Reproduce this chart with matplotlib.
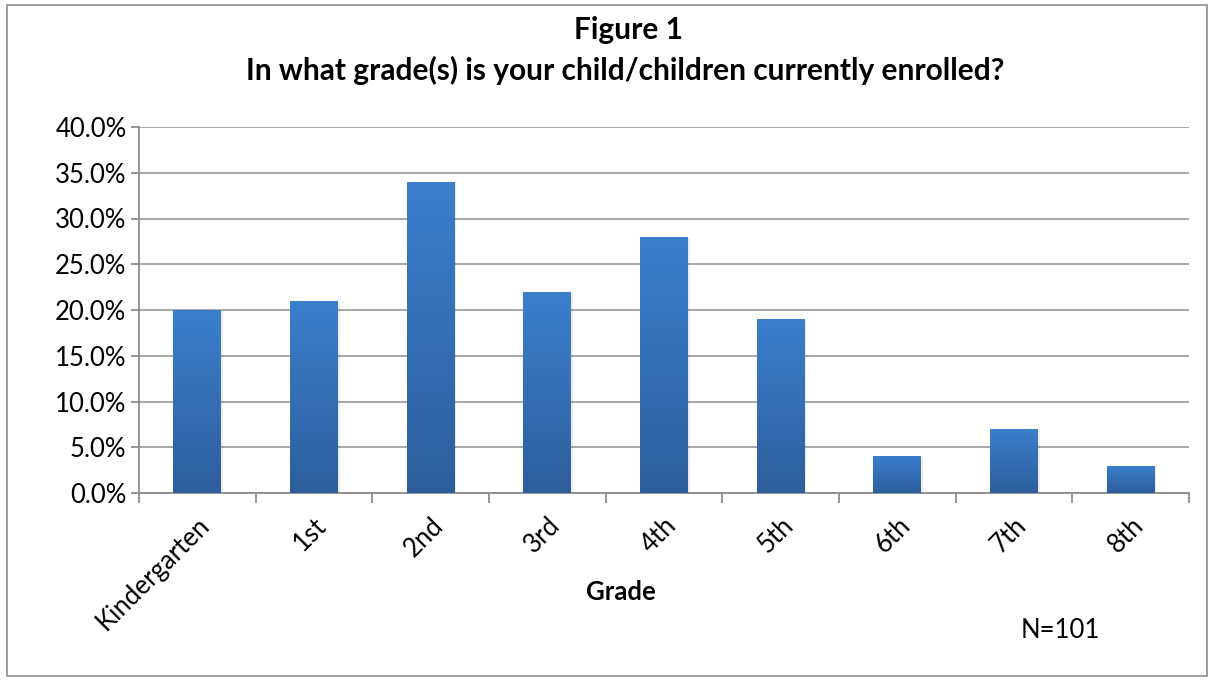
import numpy as np
import matplotlib.pyplot as plt
from matplotlib.patches import Rectangle
from matplotlib.colors import LinearSegmentedColormap

# DATA
grades = ['Kindergarten', '1st', '2nd', '3rd', '4th', '5th', '6th', '7th', '8th']
percent = [20.0, 21.0, 34.0, 22.0, 28.0, 19.0, 4.0, 7.0, 3.0]
y_ticks = [0, 5, 10, 15, 20, 25, 30, 35, 40]

plt.rcParams['font.family'] = ['Lato', 'DejaVu Sans']

fig = plt.figure(figsize=(12.12, 6.81), dpi=100)
fig.patch.set_facecolor('white')

# outer chart border
fig.add_artist(Rectangle((7 / 1212, 5 / 681), 1200 / 1212, 671 / 681,
                         transform=fig.transFigure, fill=False,
                         edgecolor='#8c8c8c', linewidth=1.2))

ax = fig.add_axes([139 / 1212, 1 - 493 / 681, 1050 / 1212, 366 / 681])

grad = LinearSegmentedColormap.from_list('bar', ['#2d5e9c', '#3b7fcd'])
x = np.arange(len(grades))
width = 0.41
bars = ax.bar(x, percent, width=width, color='none', zorder=3)
g = np.linspace(0, 1, 256).reshape(-1, 1)
for b in bars:
    x0, y0 = b.get_x(), b.get_y()
    w, h = b.get_width(), b.get_height()
    # faint shadow
    ax.add_patch(Rectangle((x0 + 0.015, y0), w, h - 0.1, color='#000000',
                           alpha=0.07, zorder=2, linewidth=0))
    im = ax.imshow(g, cmap=grad, aspect='auto', origin='lower',
                   extent=[x0, x0 + w, y0, y0 + h], zorder=3)
    im.set_clip_path(b)

ax.set_xlim(-0.5, len(grades) - 0.5)
ax.set_ylim(0, 40)
ax.set_yticks(y_ticks)
ax.set_yticklabels([f'{v:.1f}%' for v in y_ticks], fontsize=18.5)
ax.yaxis.grid(True, color='#a0a0a0', linewidth=1.3, zorder=0)
ax.set_axisbelow(True)

ax.set_xticks(x)
ax.set_xticklabels(grades, rotation=45, ha='right', rotation_mode='anchor',
                   fontsize=18.5)
ax.tick_params(axis='x', length=0, pad=14)
ax.set_xticks(np.arange(-0.5, len(grades)), minor=True)
ax.tick_params(axis='x', which='minor', length=7, color='#8c8c8c', width=1.3)
ax.tick_params(axis='y', length=6, color='#8c8c8c', width=1.3, pad=3)

for s in ['top', 'right']:
    ax.spines[s].set_visible(False)
for s in ['left', 'bottom']:
    ax.spines[s].set_color('#8c8c8c')
    ax.spines[s].set_linewidth(1.3)

fig.text(628 / 1212, 1 - 30 / 681, 'Figure 1', ha='center', va='center',
         fontsize=21.5, fontweight='bold')
fig.text(625 / 1212, 1 - 70 / 681,
         'In what grade(s) is your child/children currently enrolled?',
         ha='center', va='center', fontsize=21.5, fontweight='bold')
fig.text(621 / 1212, 1 - 592 / 681, 'Grade', ha='center', va='center',
         fontsize=18.5, fontweight='bold')
fig.text(1060 / 1212, 1 - 630 / 681, 'N=101', ha='center', va='center',
         fontsize=18.5)

fig.savefig('out.png', dpi=100)
